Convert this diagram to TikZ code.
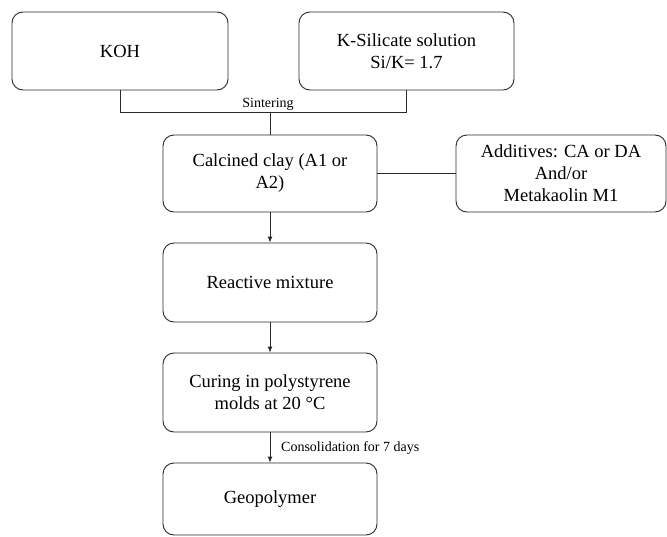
\documentclass[tikz,border=0pt]{standalone}
\usepackage{fontspec}
\setmainfont{Liberation Serif}
\usetikzlibrary{arrows.meta}
\definecolor{linec}{HTML}{2A2A2A}
\begin{document}
\begin{tikzpicture}[x=1pt,y=-1pt,
  box/.style={draw=linec, line width=0.9pt, rounded corners=11pt, align=center,
    font=\fontsize{18.5}{22}\selectfont, text=black, inner sep=0pt},
  conn/.style={draw=linec, line width=0.9pt},
  arr/.style={conn, -{Latex[length=6pt,width=5pt]}},
  lbl/.style={font=\fontsize{14}{16}\selectfont, text=black, inner sep=0pt}]
\useasboundingbox (0,0) rectangle (667,536);
\node[box, minimum width=216pt, minimum height=78pt] (koh) at (120,51) {KOH};
\node[box, minimum width=215pt, minimum height=78pt] (ksil) at (406.5,51) {K-Silicate solution\\Si/K= 1.7};
\node[box, minimum width=214pt, minimum height=77pt] (calc) at (270,173.5) {Calcined clay (A1 or\\A2)};
\node[box, minimum width=210pt, minimum height=77pt] (add) at (561,173.5) {Additives: CA or DA\\And/or\\Metakaolin M1};
\node[box, minimum width=214pt, minimum height=79pt] (react) at (270,282.5) {Reactive mixture};
\node[box, minimum width=214pt, minimum height=79pt] (cure) at (270,392.5) {Curing in polystyrene\\molds at 20 °C};
\node[box, minimum width=214pt, minimum height=72pt] (geo) at (270,499) {Geopolymer};
\coordinate (sint) at (270,112.5);
\draw[conn] (koh.south) |- (sint) -| (ksil.south);
\draw[conn] (sint) -- (calc.north);
\node[lbl, anchor=base] (sintl) at (268,107) {Sintering};
\draw[conn] (calc.east) -- (add.west);
\draw[arr] (calc.south) -- (react.north);
\draw[arr] (react.south) -- (cure.north);
\draw[arr] (cure.south) -- (geo.north);
\node[lbl, anchor=base west] (consl) at (281,451) {Consolidation for 7 days};
\end{tikzpicture}
\end{document}
